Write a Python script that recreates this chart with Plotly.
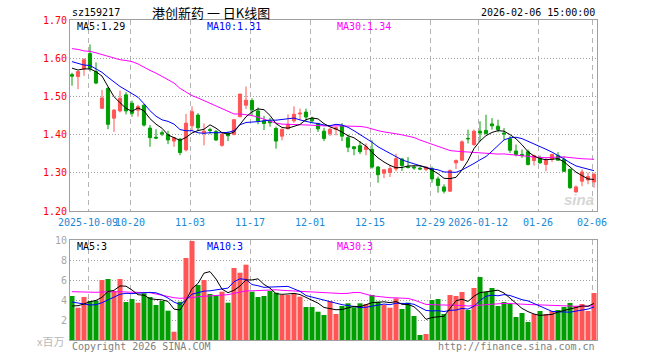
import plotly.graph_objects as go
import pandas as pd
import numpy as np

# ---------------- data ----------------
holidays = pd.to_datetime(["2025-10-01", "2025-10-02", "2025-10-03", "2025-10-06",
                           "2025-10-07", "2025-10-08", "2026-01-01", "2026-01-02"])
days = pd.bdate_range("2025-09-26", "2026-02-06")
days = days[~days.isin(holidays)]
dates = [d.strftime("%Y-%m-%d") for d in days]

opens = [1.557, 1.552, 1.572, 1.612, 1.565, 1.469, 1.521, 1.443, 1.462, 1.504,
         1.482, 1.464, 1.477, 1.417, 1.393, 1.405, 1.400, 1.383, 1.388, 1.360,
         1.423, 1.451, 1.404, 1.413, 1.408, 1.372, 1.404, 1.401, 1.447, 1.477,
         1.489, 1.462, 1.436, 1.436, 1.416, 1.396, 1.415, 1.436, 1.454, 1.459,
         1.443, 1.429, 1.409, 1.403, 1.414, 1.424, 1.392, 1.368, 1.371, 1.361,
         1.361, 1.315, 1.299, 1.301, 1.310, 1.336, 1.316, 1.315, 1.312, 1.309,
         1.311, 1.284, 1.263, 1.252, 1.326, 1.333, 1.390, 1.374, 1.409, 1.411,
         1.428, 1.422, 1.404, 1.389, 1.357, 1.348, 1.355, 1.332, 1.339, 1.322,
         1.335, 1.345, 1.335, 1.309, 1.250, 1.278, 1.281, 1.276]
highs = [1.562, 1.566, 1.600, 1.636, 1.589, 1.517, 1.525, 1.467, 1.515, 1.511,
         1.489, 1.478, 1.480, 1.425, 1.414, 1.411, 1.410, 1.394, 1.391, 1.454,
         1.474, 1.456, 1.429, 1.418, 1.412, 1.404, 1.408, 1.440, 1.507, 1.526,
         1.495, 1.471, 1.449, 1.444, 1.421, 1.415, 1.453, 1.474, 1.468, 1.468,
         1.447, 1.431, 1.418, 1.418, 1.422, 1.430, 1.400, 1.370, 1.383, 1.377,
         1.385, 1.318, 1.309, 1.321, 1.350, 1.339, 1.341, 1.320, 1.317, 1.317,
         1.316, 1.290, 1.270, 1.309, 1.335, 1.385, 1.413, 1.413, 1.435, 1.452,
         1.443, 1.439, 1.417, 1.396, 1.374, 1.361, 1.361, 1.348, 1.345, 1.339,
         1.350, 1.354, 1.343, 1.311, 1.267, 1.309, 1.300, 1.300]
lows = [1.528, 1.519, 1.554, 1.565, 1.532, 1.467, 1.414, 1.407, 1.458, 1.453,
        1.447, 1.447, 1.421, 1.368, 1.388, 1.396, 1.375, 1.368, 1.346, 1.356,
        1.410, 1.410, 1.372, 1.401, 1.383, 1.368, 1.383, 1.398, 1.445, 1.467,
        1.448, 1.427, 1.412, 1.421, 1.363, 1.385, 1.415, 1.431, 1.438, 1.434,
        1.431, 1.407, 1.383, 1.396, 1.398, 1.383, 1.354, 1.346, 1.349, 1.346,
        1.311, 1.274, 1.286, 1.289, 1.304, 1.305, 1.311, 1.308, 1.307, 1.304,
        1.274, 1.248, 1.246, 1.250, 1.310, 1.331, 1.377, 1.370, 1.383, 1.400,
        1.413, 1.406, 1.387, 1.352, 1.343, 1.339, 1.319, 1.319, 1.324, 1.304,
        1.328, 1.332, 1.302, 1.258, 1.248, 1.265, 1.270, 1.261]
closes = [1.553, 1.565, 1.596, 1.574, 1.535, 1.496, 1.427, 1.464, 1.495, 1.462,
          1.456, 1.473, 1.425, 1.392, 1.391, 1.402, 1.386, 1.392, 1.353, 1.430,
          1.460, 1.418, 1.409, 1.411, 1.386, 1.401, 1.397, 1.439, 1.506, 1.490,
          1.465, 1.436, 1.429, 1.431, 1.383, 1.414, 1.427, 1.453, 1.456, 1.446,
          1.436, 1.415, 1.390, 1.414, 1.418, 1.396, 1.367, 1.363, 1.355, 1.368,
          1.315, 1.295, 1.308, 1.311, 1.337, 1.319, 1.314, 1.313, 1.310, 1.315,
          1.284, 1.267, 1.252, 1.306, 1.332, 1.381, 1.389, 1.409, 1.404, 1.403,
          1.423, 1.413, 1.402, 1.359, 1.348, 1.345, 1.322, 1.345, 1.326, 1.333,
          1.348, 1.333, 1.304, 1.261, 1.263, 1.302, 1.290, 1.296]
volumes = [4.4, 3.23, 4.3, 3.9, 3.93, 6.0, 6.1, 4.9, 6.1, 3.8,
           4.1, 3.73, 4.67, 4.3, 3.5, 3.9, 2.93, 0.83, 3.83, 8.2,
           9.9, 5.5, 6.0, 4.6, 4.5, 4.83, 3.73, 7.2, 6.73, 7.53,
           4.83, 4.3, 4.4, 4.9, 4.73, 4.5, 4.5, 4.67, 4.33, 3.3,
           3.3, 2.83, 2.5, 3.9, 2.6, 3.4, 3.67, 3.27, 3.67, 3.6,
           4.5, 3.83, 3.5, 3.23, 4.17, 3.1, 3.73, 2.4, 0.5, 0.6,
           4.0, 4.1, 2.6, 4.5, 4.4, 4.8, 3.0, 5.2, 6.3, 4.8,
           5.2, 3.4, 3.8, 3.6, 2.3, 2.7, 1.8, 2.6, 2.9, 2.6,
           2.9, 3.0, 3.3, 3.7, 3.4, 3.6, 2.9, 4.7]

# moving-average values before enough in-chart history exists
ma5_head = [1.574, 1.569, 1.572, 1.572]
ma10_head = [1.591, 1.586, 1.582, 1.581, 1.572, 1.563, 1.550, 1.537, 1.526]
ma30_head = [1.625, 1.623, 1.619, 1.618, 1.614, 1.609, 1.605, 1.601, 1.596, 1.594,
             1.591, 1.585, 1.576, 1.568, 1.561, 1.553, 1.544, 1.535, 1.521, 1.512,
             1.502, 1.496, 1.489, 1.482, 1.474, 1.467, 1.460, 1.454, 1.454]
vma5_head = [3.4, 3.43, 3.6, 3.83]
vma10_head = [3.8, 3.67, 3.6, 3.5, 3.53, 3.73, 4.0, 4.33, 4.57]
vma30_head = [4.83, 4.8, 4.77, 4.73, 4.77, 4.8, 4.83, 4.83, 4.83, 4.8,
              4.8, 4.8, 4.77, 4.73, 4.6, 4.47, 4.33, 4.23, 4.17, 4.17,
              4.23, 4.33, 4.37, 4.43, 4.47, 4.5, 4.53, 4.67, 4.8]

tick_dates = ["2025-10-09", "2025-10-20", "2025-11-03", "2025-11-17", "2025-12-01",
              "2025-12-15", "2025-12-29", "2026-01-12", "2026-01-26", "2026-02-06"]
tick_labels = ["2025-10-09", "10-20", "11-03", "11-17", "12-01",
               "12-15", "12-29", "2026-01-12", "01-26", "02-06"]
price_ticks = [1.20, 1.30, 1.40, 1.50, 1.60, 1.70]
vol_ticks = [2, 4, 6, 8, 10]

symbol = "sz159217"
title_text = "港创新药 一 日K线图"
time_text = "2026-02-06 15:00:00"
ma_labels = ["MA5:1.29", "MA10:1.31", "MA30:1.34"]
vma_labels = ["MA5:3", "MA10:3", "MA30:3"]


def ma(values, n, head):
    s = pd.Series(values).rolling(n).mean().to_numpy()
    s[:len(head)] = head
    return s


x = np.arange(len(dates))
RED = "#ff5555"
GREEN = "#009e00"
MONO = "DejaVu Sans Mono"

ma5 = ma(closes, 5, ma5_head)
ma10 = ma(closes, 10, ma10_head)
ma30 = ma(closes, 30, ma30_head)
vma5 = ma(volumes, 5, vma5_head)
vma10 = ma(volumes, 10, vma10_head)
vma30 = ma(volumes, 30, vma30_head)

bar_colors = [RED if c >= o else GREEN for o, c in zip(opens, closes)]

fig = go.Figure()
fig.add_trace(go.Candlestick(
    x=x, open=opens, high=highs, low=lows, close=closes,
    increasing=dict(line=dict(color=RED, width=1), fillcolor=RED),
    decreasing=dict(line=dict(color=GREEN, width=1), fillcolor=GREEN),
    whiskerwidth=0, xaxis="x", yaxis="y", hoverinfo="skip", showlegend=False))
for vals, col in [(ma30, "#ff00ff"), (ma10, "#0000ff"), (ma5, "#000000")]:
    fig.add_trace(go.Scatter(x=x, y=vals, mode="lines", line=dict(color=col, width=1),
                             xaxis="x", yaxis="y", hoverinfo="skip", showlegend=False))

fig.add_trace(go.Bar(x=x, y=volumes, marker=dict(color=bar_colors, line=dict(width=0)),
                     width=0.84, xaxis="x2", yaxis="y2", hoverinfo="skip", showlegend=False))
for vals, col in [(vma30, "#ff00ff"), (vma10, "#0000ff"), (vma5, "#000000")]:
    fig.add_trace(go.Scatter(x=x, y=vals, mode="lines", line=dict(color=col, width=1),
                             xaxis="x2", yaxis="y2", hoverinfo="skip", showlegend=False))

tickpos = [dates.index(d) - 0.33 for d in tick_dates]
xr = [-0.333, 87.5]

# layout geometry in pixels
L, R, T, B = 70, 597, 20, 340
W, H = 660, 360
ph = B - T


def px(xp):
    return (xp - L) / (R - L)


def py(yp):
    return (B - yp) / ph


common_x = dict(range=xr, showline=True, mirror=True, linecolor="#a0a0a0", linewidth=1,
                showgrid=True, gridcolor="#b4b4b4", griddash="5px,4px", gridwidth=1,
                zeroline=False, ticks="", tickvals=tickpos, fixedrange=True,
                automargin=False, tickangle=0)
common_y = dict(showline=True, mirror=True, linecolor="#a0a0a0", linewidth=1,
                showgrid=True, gridcolor="#a0a0a0", griddash="1px,2px", zeroline=False,
                ticks="", ticklabelstandoff=0, fixedrange=True, automargin=False)

fig.update_layout(
    width=W, height=H, margin=dict(l=L, r=W - R, t=T, b=H - B, autoexpand=False),
    paper_bgcolor="white", plot_bgcolor="white",
    boxgap=0.25,
    xaxis=dict(**common_x, anchor="y", ticktext=tick_labels,
               tickfont=dict(family=MONO, size=10, color="#1a88d5"),
               rangeslider=dict(visible=False), ticklabelstandoff=2),
    xaxis2=dict(**common_x, anchor="y2", showticklabels=False),
    yaxis=dict(**common_y, domain=[py(211), 1.0], range=[1.20, 1.70], tickvals=price_ticks,
               ticktext=[f"{v:.2f}" for v in price_ticks],
               tickfont=dict(family=MONO, size=10, color="#ff0000")),
    yaxis2=dict(**common_y, domain=[0, py(240)], range=[0, 10], tickvals=vol_ticks,
                tickfont=dict(family=MONO, size=10, color="#a8a8a8")),
)

ann = []


def text(t, xp, yp, color, size=10, family=MONO, anchor="left"):
    ann.append(dict(text=t, x=px(xp), y=py(yp), xref="paper", yref="paper",
                    xanchor=anchor, yanchor="middle", showarrow=False,
                    font=dict(family=family, size=size, color=color)))


text(symbol, 70, 13, "#000000")
text(title_text, 150, 12.5, "#000000", size=13, family="Noto Sans CJK SC")
text(time_text, 597, 13, "#000000", anchor="right")
for lab, xp, col in zip(ma_labels, [75, 205, 335], ["#000000", "#0000ff", "#ff00ff"]):
    text(lab, xp, 26, col)
for lab, xp, col in zip(vma_labels, [75, 205, 335], ["#000000", "#0000ff", "#ff00ff"]):
    text(lab, xp, 246, col)
text("x百万", 66, 341, "#b8b8b8", size=11, family="Noto Sans CJK SC", anchor="right")
text("Copyright 2026 SINA.COM", 70, 346, "#808080")
text("http://finance.sina.com.cn", 597, 346, "#808080", anchor="right")
text("<b><i>sina</i></b>", 596, 199, "#d6d6d6", size=15, family="Liberation Sans", anchor="right")

fig.update_layout(annotations=ann)
fig.write_html("out.html", config={"displayModeBar": False},
               post_script="document.body.style.margin='0px';")
